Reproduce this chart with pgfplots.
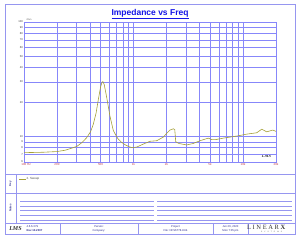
\documentclass[border=0pt]{standalone}
\usepackage{pgfplots}
\pgfplotsset{compat=1.18}
\usepackage{fontspec}
\setmainfont{Liberation Sans}
\newfontfamily\serifit{Liberation Serif}
\definecolor{gridblue}{RGB}{135,135,250}
\definecolor{frameblue}{RGB}{150,150,240}
\definecolor{titleblue}{RGB}{20,20,230}
\definecolor{curvecol}{RGB}{165,160,55}
\definecolor{ticklab}{RGB}{190,60,80}
\definecolor{footblue}{RGB}{40,40,140}
\begin{document}
\begin{tikzpicture}
\path[use as bounding box] (0,0) rectangle (600pt,480pt);
\begin{scope}[x=2pt,y=-2pt,yshift=480pt]
  \draw[frameblue, line width=1.1pt] (5,4) rectangle (295,234);
  \draw[frameblue, line width=1pt] (5,174) -- (295,174);
  \draw[frameblue, line width=1pt] (5,193) -- (295,193);
  \draw[frameblue, line width=1pt] (5,223) -- (295,223);
  \draw[frameblue, line width=1pt] (16,174) -- (16,223);
  \foreach \xx in {60,138,213,248} \draw[frameblue, line width=1pt] (\xx,223) -- (\xx,234);
  \foreach \yy in {201,205.8,210.6,215.4,220.2} {
    \draw[frameblue, line width=0.9pt] (20,\yy) -- (154,\yy);
    \draw[frameblue, line width=0.9pt] (157,\yy) -- (292,\yy);
  }
  \node[titleblue, font=\fontsize{17}{18}\selectfont\bfseries] at (150,13.5) {\underline{Impedance vs Freq}};
  \node[font=\fontsize{4.5}{5}\selectfont, text=black!70] at (29,19.3) {Ohm};
  \node[rotate=90, font=\fontsize{5.5}{6}\selectfont\bfseries, text=footblue] at (10.5,183.5) {Key};
  \node[rotate=90, font=\fontsize{5.5}{6}\selectfont\bfseries, text=footblue] at (10.5,208) {Notes};
  \draw[curvecol, line width=1.2pt] (19,179) -- (25.5,179);
  \node[anchor=west, font=\fontsize{6}{6}\selectfont, text=black!70, inner sep=1pt] at (26,179) {2. Sweep};
  \node[font=\serifit\itshape\bfseries\fontsize{12}{12}\selectfont, text=black!80] at (15.5,228.8) {LMS};
  \node[anchor=west, font=\fontsize{5.5}{5}\selectfont, text=footblue, inner sep=0pt] at (26.5,226.3) {4.6.6.379};
  \node[anchor=west, font=\fontsize{5.5}{5}\selectfont\bfseries, text=footblue, inner sep=0pt] at (26.5,231) {Rev 10.2007};
  \node[font=\fontsize{5.5}{5}\selectfont, text=footblue] at (99,226.3) {Person:};
  \node[font=\fontsize{5.5}{5}\selectfont, text=footblue] at (99,231) {Company:};
  \node[font=\fontsize{5.5}{5}\selectfont, text=footblue] at (175.5,226.3) {Project};
  \node[font=\fontsize{5.5}{5}\selectfont, text=footblue] at (175.5,231) {File: NFS6T78-8.lib};
  \node[font=\fontsize{5.5}{5}\selectfont, text=footblue] at (230.5,226.3) {Jun 26, 2020};
  \node[font=\fontsize{5.5}{5}\selectfont, text=footblue] at (230.5,231) {Mon 7:05 pm};
  \node[font=\serifit\fontsize{13}{13}\selectfont\addfontfeature{LetterSpace=25}, text=black!80, inner sep=0pt] at (267,227) {LINEAR\textbf{X}};
  \node[font=\fontsize{3.5}{4}\selectfont\addfontfeature{LetterSpace=120}, text=black!70, inner sep=0pt] at (271.5,232.3) {SYSTEMS};
  \node[font=\serifit\itshape\bfseries\fontsize{9}{9}\selectfont, text=black!80] at (266.5,156.5) {LMS};
\end{scope}
\begin{axis}[
  at={(48pt,156pt)}, anchor=south west, scale only axis,
  width=504pt, height=280pt,
  xmode=log, ymode=log,
  xmin=100, xmax=20000, ymin=6, ymax=100,
  axis line style={gridblue, line width=1.1pt},
  grid=major, major grid style={gridblue, line width=0.95pt},
  major tick length=0pt, minor tick num=0,
  xtick={100,200,300,400,500,600,700,800,900,1000,2000,3000,4000,5000,6000,7000,8000,9000,10000,20000},
  xticklabels={\phantom{Hz\,}100 Hz,200,,,500,,,,,1k,2k,,,5k,,,,,10k,20k},
  ytick={6,7,8,9,10,20,30,40,50,60,70,80,90,100},
  yticklabels={6,7,8,9,10,20,30,40,50,60,70,80,90,100},
  x tick label style={text=ticklab, font=\fontsize{6}{6}\selectfont, inner sep=2pt},
  y tick label style={text=black!75, font=\fontsize{5.5}{6}\selectfont, inner sep=2pt},
]
\addplot[curvecol, line width=1.2pt, line join=round] coordinates {
(100,7.24) (150,7.3) (200,7.4) (237,7.6) (270,7.9) (303,8.2) (340,8.9) (374,9.8)
(405,11.0) (429,12.8) (455,16) (477,21) (500,27) (515,29.8) (525,30.2) (540,28.5)
(569,22) (610,15) (654,11.3) (700,10.0) (726,9.5) (780,8.9) (836,8.5) (900,8.2)
(963,8.0) (1069,8.1) (1228,8.6) (1415,9.1) (1629,9.2) (1871,9.9) (2050,10.9)
(2154,11.4) (2310,11.7) (2380,11.5) (2430,9.0) (2600,8.7) (3060,8.45) (3500,8.7)
(4046,9.2) (4820,9.7) (5176,9.4) (5600,9.4) (6607,9.7) (8750,10.1) (10800,10.5)
(13340,10.8) (14820,11.6) (16450,11.0) (18670,11.4) (20000,11.1)
};
\end{axis}
\end{tikzpicture}
\end{document}
